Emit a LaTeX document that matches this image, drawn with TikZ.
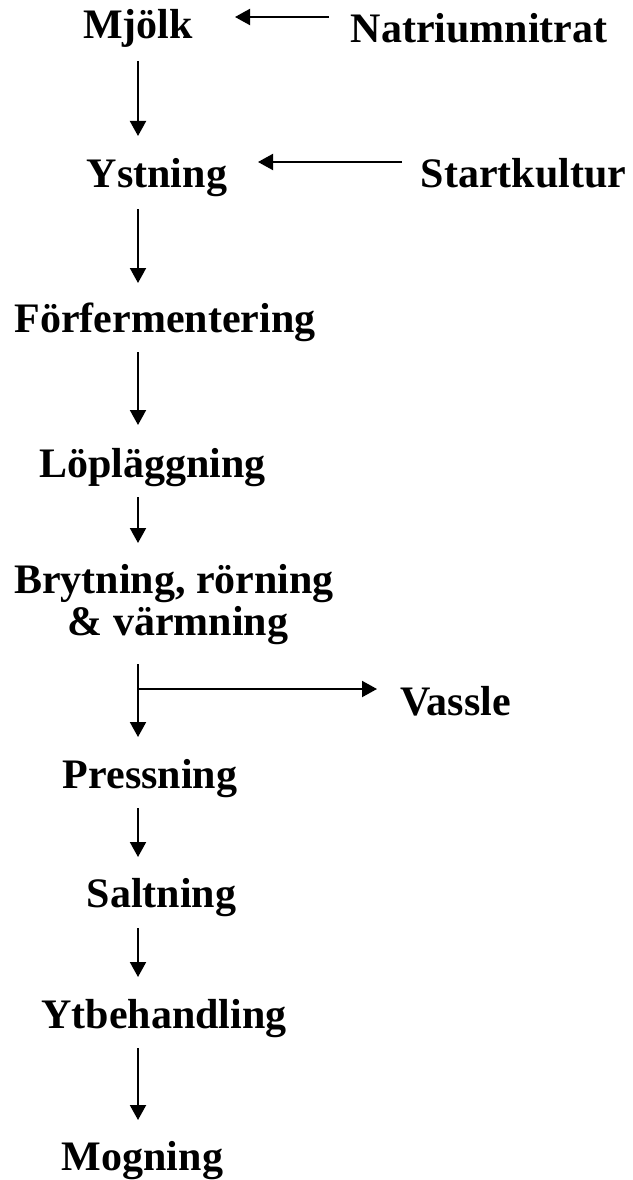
\documentclass[tikz,border=0pt]{standalone}
\usepackage{fontspec}
\setmainfont{Liberation Serif}
\usetikzlibrary{arrows.meta}
\begin{document}
\begin{tikzpicture}[x=1pt,y=-1pt,
  lbl/.style={font=\fontsize{42}{42}\selectfont\bfseries, inner sep=0pt, anchor=base},
  arr/.style={line width=2pt, -{Triangle[length=15pt,width=16pt]}},
  ln/.style={line width=2pt}]
\useasboundingbox (0,0) rectangle (632,1180);
% text nodes
\node[lbl] (mjolk)   at (138,39)   {Mjölk};
\node[lbl] (natrium) at (479,43)   {Natriumnitrat};
\node[lbl] (ystning) at (157,187)  {Ystning};
\node[lbl] (start)   at (523.5,187) {Startkultur};
\node[lbl] (forf)    at (165,332)  {Förfermentering};
\node[lbl] (lop)     at (152.5,477) {Löpläggning};
\node[lbl] (bryt1)   at (174,593)  {Brytning, rörning};
\node[lbl] (bryt2)   at (178,635)  {\& värmning};
\node[lbl] (vassle)  at (455.5,715) {Vassle};
\node[lbl] (press)   at (150,788)  {Pressning};
\node[lbl] (salt)    at (161.5,907) {Saltning};
\node[lbl] (ytb)     at (164,1028) {Ytbehandling};
\node[lbl] (mogn)    at (142.5,1170) {Mogning};
% connector end points
\coordinate (n1) at (329,17);   \coordinate (n2) at (235,17);
\coordinate (m1) at (138,61);   \coordinate (m2) at (138,136);
\coordinate (s1) at (402,162);  \coordinate (s2) at (258,162);
\coordinate (y1) at (138,209);  \coordinate (y2) at (138,283);
\coordinate (f1) at (138,352);  \coordinate (f2) at (138,425);
\coordinate (l1) at (138,497);  \coordinate (l2) at (138,543);
\coordinate (b1) at (138,664);  \coordinate (b2) at (138,737);
\coordinate (bj) at (138,689);  \coordinate (v2) at (377,689);
\coordinate (p1) at (138,808);  \coordinate (p2) at (138,857);
\coordinate (sa1) at (138,928); \coordinate (sa2) at (138,977);
\coordinate (t1) at (138,1048); \coordinate (t2) at (138,1120);
% connectors
\draw[arr] (n1) -- (n2);
\draw[arr] (m1) -- (m2);
\draw[arr] (s1) -- (s2);
\draw[arr] (y1) -- (y2);
\draw[arr] (f1) -- (f2);
\draw[arr] (l1) -- (l2);
\draw[arr] (b1) -- (b2);
\draw[arr] (bj) -- (v2);
\draw[arr] (p1) -- (p2);
\draw[arr] (sa1) -- (sa2);
\draw[arr] (t1) -- (t2);
\end{tikzpicture}
\end{document}
